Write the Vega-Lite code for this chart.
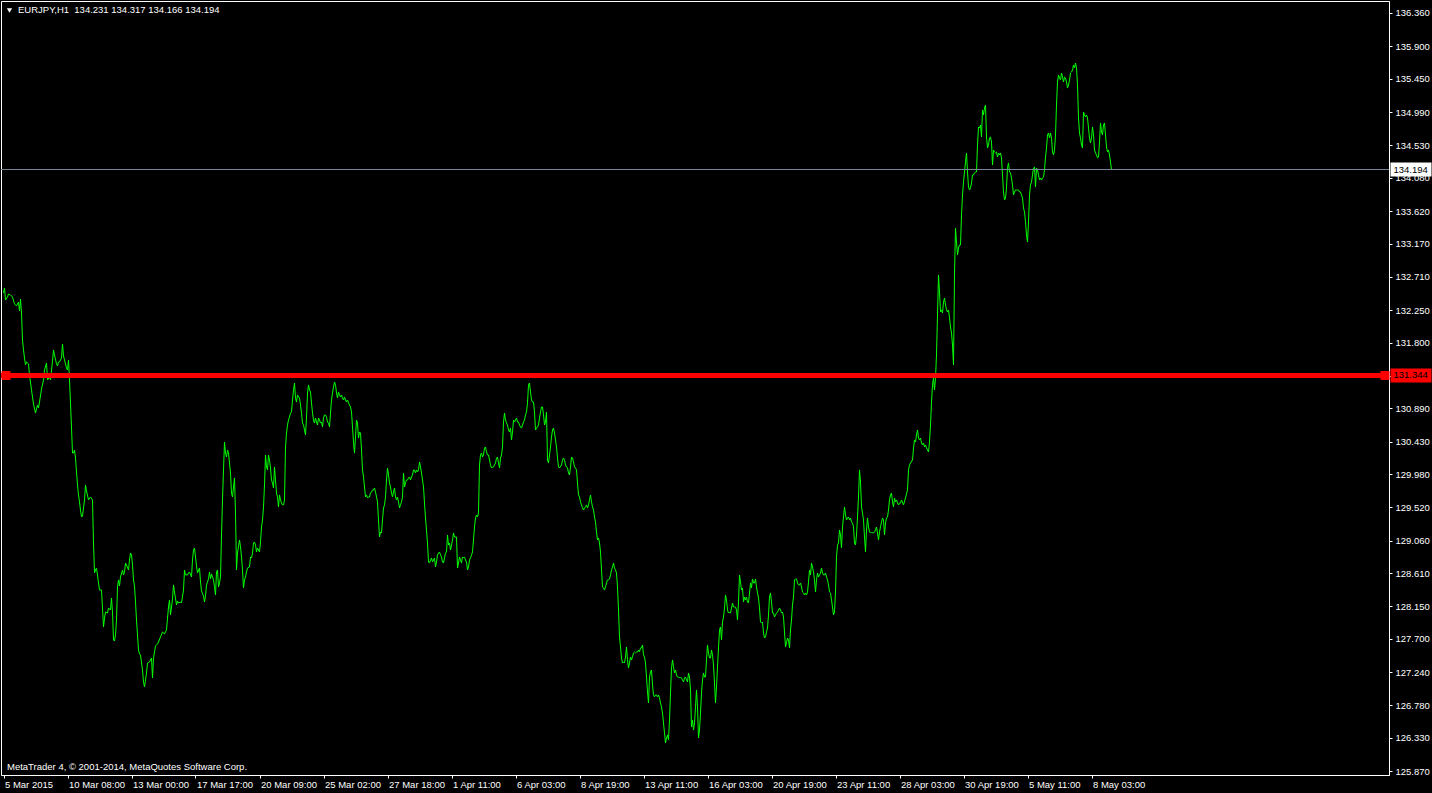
{
"$schema":"https://vega.github.io/schema/vega-lite/v6.json",
"width":1388,"height":774,
"autosize":{"type":"none"},
"padding":{"left":1,"top":1,"right":43,"bottom":18},
"background":"#000000",
"view":{"stroke":"#ffffff","strokeWidth":1,"fill":"#000000"},
"config":{"font":"Liberation Sans","axis":{"labelOverlap":false,"labelBound":false,"labelFlush":false,"grid":false}},
"datasets":{"bars":[
{"i":0,"p":132.485},{"i":1,"p":132.555},{"i":2,"p":132.389},{"i":4,"p":132.430},{"i":5,"p":132.472},{"i":7,"p":132.458},{"i":9,"p":132.430},{"i":11,"p":132.334},{"i":13,"p":132.306},{"i":15,"p":132.361},{"i":16,"p":132.237},{"i":17,"p":132.402},{"i":18,"p":132.209},{"i":19,"p":131.835},{"i":20,"p":131.697},{"i":21,"p":131.586},{"i":22,"p":131.490},{"i":23,"p":131.531},{"i":25,"p":131.504},{"i":26,"p":131.351},{"i":28,"p":131.144},{"i":30,"p":130.950},{"i":32,"p":130.825},{"i":34,"p":130.936},{"i":35,"p":130.894},{"i":36,"p":130.977},{"i":38,"p":131.157},{"i":40,"p":131.282},{"i":41,"p":131.420},{"i":43,"p":131.517},{"i":44,"p":131.282},{"i":46,"p":131.323},{"i":47,"p":131.282},{"i":49,"p":131.545},{"i":50,"p":131.697},{"i":51,"p":131.628},{"i":53,"p":131.504},{"i":54,"p":131.476},{"i":55,"p":131.531},{"i":56,"p":131.531},{"i":58,"p":131.586},{"i":59,"p":131.780},{"i":60,"p":131.614},{"i":61,"p":131.559},{"i":63,"p":131.448},{"i":64,"p":131.420},{"i":65,"p":131.559},{"i":66,"p":131.282},{"i":67,"p":130.963},{"i":68,"p":130.617},{"i":69,"p":130.271},{"i":70,"p":130.271},{"i":71,"p":130.313},{"i":72,"p":130.202},{"i":73,"p":130.009},{"i":74,"p":129.829},{"i":75,"p":129.691},{"i":76,"p":129.594},{"i":77,"p":129.483},{"i":78,"p":129.386},{"i":79,"p":129.400},{"i":81,"p":129.622},{"i":82,"p":129.829},{"i":83,"p":129.746},{"i":85,"p":129.622},{"i":87,"p":129.663},{"i":89,"p":129.622},{"i":90,"p":129.026},{"i":91,"p":128.611},{"i":92,"p":128.653},{"i":93,"p":128.680},{"i":95,"p":128.473},{"i":96,"p":128.376},{"i":98,"p":128.376},{"i":99,"p":128.127},{"i":100,"p":127.864},{"i":101,"p":127.988},{"i":102,"p":128.071},{"i":104,"p":128.057},{"i":105,"p":128.127},{"i":107,"p":128.099},{"i":108,"p":128.265},{"i":109,"p":128.071},{"i":110,"p":127.684},{"i":111,"p":127.670},{"i":112,"p":127.754},{"i":113,"p":127.961},{"i":114,"p":128.418},{"i":115,"p":128.515},{"i":116,"p":128.432},{"i":117,"p":128.556},{"i":119,"p":128.653},{"i":120,"p":128.584},{"i":121,"p":128.625},{"i":122,"p":128.749},{"i":123,"p":128.722},{"i":125,"p":128.653},{"i":126,"p":128.791},{"i":127,"p":128.888},{"i":128,"p":128.861},{"i":129,"p":128.722},{"i":130,"p":128.515},{"i":131,"p":128.432},{"i":132,"p":128.210},{"i":133,"p":127.961},{"i":134,"p":127.754},{"i":135,"p":127.546},{"i":136,"p":127.491},{"i":137,"p":127.477},{"i":139,"p":127.269},{"i":140,"p":127.103},{"i":141,"p":127.034},{"i":143,"p":127.227},{"i":144,"p":127.366},{"i":146,"p":127.380},{"i":148,"p":127.435},{"i":149,"p":127.158},{"i":150,"p":127.435},{"i":152,"p":127.601},{"i":154,"p":127.629},{"i":155,"p":127.656},{"i":157,"p":127.726},{"i":159,"p":127.795},{"i":161,"p":127.768},{"i":163,"p":127.823},{"i":165,"p":128.141},{"i":166,"p":128.238},{"i":167,"p":128.030},{"i":169,"p":128.251},{"i":170,"p":128.446},{"i":171,"p":128.348},{"i":173,"p":128.169},{"i":174,"p":128.224},{"i":175,"p":128.196},{"i":177,"p":128.210},{"i":178,"p":128.196},{"i":180,"p":128.376},{"i":181,"p":128.653},{"i":182,"p":128.584},{"i":184,"p":128.584},{"i":185,"p":128.611},{"i":186,"p":128.625},{"i":188,"p":128.556},{"i":189,"p":128.791},{"i":190,"p":128.930},{"i":191,"p":128.957},{"i":193,"p":128.708},{"i":194,"p":128.611},{"i":196,"p":128.680},{"i":197,"p":128.487},{"i":198,"p":128.362},{"i":200,"p":128.293},{"i":201,"p":128.210},{"i":202,"p":128.293},{"i":203,"p":128.446},{"i":205,"p":128.529},{"i":206,"p":128.625},{"i":207,"p":128.529},{"i":208,"p":128.598},{"i":209,"p":128.556},{"i":210,"p":128.515},{"i":211,"p":128.418},{"i":212,"p":128.307},{"i":213,"p":128.625},{"i":214,"p":128.653},{"i":215,"p":128.418},{"i":216,"p":128.473},{"i":217,"p":128.556},{"i":218,"p":129.137},{"i":219,"p":129.622},{"i":220,"p":130.037},{"i":221,"p":130.424},
{"i":222,"p":130.271},{"i":223,"p":130.216},{"i":224,"p":130.313},{"i":225,"p":130.271},{"i":227,"p":129.995},{"i":228,"p":129.718},{"i":229,"p":129.663},{"i":230,"p":129.801},{"i":231,"p":129.926},{"i":232,"p":129.442},{"i":233,"p":128.653},{"i":234,"p":128.888},{"i":236,"p":129.068},{"i":237,"p":128.971},{"i":238,"p":128.833},{"i":239,"p":128.653},{"i":240,"p":128.404},{"i":241,"p":128.515},{"i":242,"p":128.556},{"i":243,"p":128.625},{"i":244,"p":128.680},{"i":246,"p":128.694},{"i":247,"p":128.833},{"i":248,"p":128.819},{"i":249,"p":128.888},{"i":250,"p":129.026},{"i":251,"p":129.040},{"i":252,"p":128.999},{"i":253,"p":128.902},{"i":254,"p":128.957},{"i":256,"p":128.902},{"i":257,"p":129.040},{"i":258,"p":129.248},{"i":259,"p":129.345},{"i":260,"p":129.525},{"i":261,"p":129.829},{"i":262,"p":130.244},{"i":263,"p":130.078},{"i":264,"p":130.037},{"i":265,"p":130.244},{"i":266,"p":130.175},{"i":267,"p":130.064},{"i":268,"p":129.898},{"i":269,"p":129.857},{"i":270,"p":129.787},{"i":271,"p":130.078},{"i":272,"p":129.898},{"i":273,"p":129.718},{"i":274,"p":129.663},{"i":275,"p":129.525},{"i":276,"p":129.691},{"i":277,"p":129.622},{"i":278,"p":129.580},{"i":279,"p":129.553},{"i":280,"p":129.553},{"i":281,"p":129.622},{"i":282,"p":130.355},{"i":283,"p":130.548},{"i":284,"p":130.659},{"i":285,"p":130.728},{"i":286,"p":130.770},{"i":287,"p":130.825},{"i":288,"p":130.839},{"i":289,"p":131.005},{"i":290,"p":131.144},{"i":291,"p":131.240},{"i":292,"p":131.033},{"i":293,"p":130.977},{"i":294,"p":131.075},{"i":295,"p":131.047},{"i":296,"p":131.033},{"i":297,"p":130.936},{"i":298,"p":130.825},{"i":299,"p":130.686},{"i":300,"p":130.659},{"i":301,"p":130.590},{"i":302,"p":130.521},{"i":303,"p":130.756},{"i":304,"p":131.102},{"i":305,"p":131.213},{"i":306,"p":131.144},{"i":307,"p":131.116},{"i":308,"p":130.963},{"i":309,"p":130.825},{"i":310,"p":130.728},{"i":311,"p":130.686},{"i":312,"p":130.756},{"i":313,"p":130.700},{"i":314,"p":130.659},{"i":315,"p":130.756},{"i":316,"p":130.728},{"i":317,"p":130.686},{"i":318,"p":130.700},{"i":319,"p":130.631},{"i":320,"p":130.756},{"i":321,"p":130.798},{"i":322,"p":130.798},{"i":323,"p":130.770},{"i":324,"p":130.700},{"i":325,"p":130.686},{"i":326,"p":130.631},{"i":327,"p":130.825},{"i":328,"p":131.005},{"i":329,"p":131.102},{"i":330,"p":131.185},{"i":331,"p":131.254},{"i":332,"p":131.213},{"i":333,"p":131.102},{"i":334,"p":131.033},{"i":335,"p":131.116},{"i":336,"p":131.075},{"i":337,"p":131.047},{"i":338,"p":131.075},{"i":339,"p":131.033},{"i":340,"p":131.005},{"i":341,"p":131.047},{"i":342,"p":131.005},{"i":343,"p":130.977},{"i":344,"p":131.005},{"i":345,"p":130.963},{"i":346,"p":130.936},{"i":347,"p":130.908},{"i":348,"p":130.839},{"i":349,"p":130.631},{"i":350,"p":130.424},{"i":351,"p":130.271},{"i":352,"p":130.493},{"i":353,"p":130.728},{"i":354,"p":130.686},{"i":355,"p":130.479},{"i":356,"p":130.562},{"i":357,"p":130.548},{"i":358,"p":130.313},{"i":359,"p":130.037},{"i":360,"p":129.940},{"i":361,"p":129.801},{"i":362,"p":129.663},{"i":363,"p":129.691},{"i":364,"p":129.649},{"i":365,"p":129.663},{"i":366,"p":129.663},{"i":367,"p":129.718},{"i":368,"p":129.732},{"i":369,"p":129.760},{"i":370,"p":129.760},{"i":371,"p":129.787},{"i":372,"p":129.732},{"i":373,"p":129.663},{"i":374,"p":129.594},{"i":375,"p":129.345},{"i":376,"p":129.109},{"i":377,"p":129.179},{"i":378,"p":129.165},{"i":379,"p":129.345},{"i":380,"p":129.511},{"i":381,"p":129.553},{"i":382,"p":129.663},{"i":383,"p":129.898},{"i":384,"p":130.064},{"i":385,"p":129.968},{"i":386,"p":129.857},{"i":387,"p":129.801},{"i":388,"p":129.718},{"i":389,"p":129.663},{"i":390,"p":129.732},{"i":391,"p":129.787},{"i":392,"p":129.663},{"i":393,"p":129.622},{"i":394,"p":129.663},{"i":395,"p":129.594},{"i":396,"p":129.511},{"i":397,"p":129.553},{"i":398,"p":129.594},{"i":399,"p":129.663},{"i":400,"p":129.995},{"i":401,"p":129.801},{"i":402,"p":129.857},{"i":403,"p":129.898},{"i":404,"p":129.898},{"i":405,"p":129.926},{"i":406,"p":129.940},{"i":407,"p":129.898},{"i":408,"p":129.940},{"i":409,"p":129.968},{"i":410,"p":130.037},{"i":411,"p":130.037},{"i":412,"p":129.995},{"i":413,"p":130.037},{"i":414,"p":130.009},{"i":415,"p":130.037},{"i":416,"p":130.147},{"i":417,"p":130.078},{"i":418,"p":129.995},{"i":419,"p":129.898},{"i":420,"p":129.801},{"i":421,"p":129.580},{"i":422,"p":129.372},{"i":423,"p":129.206},{"i":424,"p":129.026},{"i":425,"p":128.763},{"i":426,"p":128.749},{"i":427,"p":128.791},{"i":428,"p":128.819},{"i":429,"p":128.763},{"i":430,"p":128.791},{"i":431,"p":128.819},{"i":432,"p":128.694},{"i":433,"p":128.763},{"i":434,"p":128.861},{"i":435,"p":128.888},{"i":436,"p":128.902},{"i":437,"p":128.861},{"i":438,"p":128.833},{"i":439,"p":128.763},{"i":440,"p":128.749},{"i":441,"p":128.819},{"i":442,"p":128.888},{"i":443,"p":128.902},{"i":444,"p":129.137},{"i":445,"p":128.999},{"i":446,"p":129.026},{"i":447,"p":128.930},{"i":449,"p":129.068},{"i":450,"p":129.165},{"i":451,"p":129.109},{"i":453,"p":129.109},{"i":454,"p":128.680},{"i":455,"p":128.749},{"i":456,"p":128.833},{"i":457,"p":128.791},{"i":458,"p":128.749},{"i":459,"p":128.833},{"i":460,"p":128.819},{"i":461,"p":128.833},{"i":462,"p":128.791},{"i":463,"p":128.763},{"i":464,"p":128.653},{"i":465,"p":128.694},{"i":466,"p":128.791},{"i":467,"p":128.819},{"i":468,"p":128.861},{"i":469,"p":128.902},{"i":470,"p":129.068},{"i":471,"p":129.248},{"i":472,"p":129.372},{"i":473,"p":129.414},{"i":474,"p":129.386},{"i":475,"p":129.442},{"i":476,"p":130.106},{"i":477,"p":130.244},{"i":478,"p":130.271},{"i":479,"p":130.216},{"i":480,"p":130.244},{"i":481,"p":130.341},{"i":482,"p":130.355},{"i":483,"p":130.286},{"i":484,"p":130.244},{"i":485,"p":130.244},{"i":486,"p":130.175},{"i":487,"p":130.106},{"i":488,"p":130.064},{"i":489,"p":130.078},{"i":490,"p":130.078},{"i":491,"p":130.106},{"i":492,"p":130.133},{"i":493,"p":130.202},{"i":494,"p":130.216},{"i":495,"p":130.133},{"i":496,"p":130.064},{"i":497,"p":130.202},{"i":498,"p":130.244},{"i":499,"p":130.355},{"i":500,"p":130.700},{"i":501,"p":130.825},{"i":502,"p":130.728},{"i":503,"p":130.686},{"i":504,"p":130.659},{"i":505,"p":130.590},{"i":506,"p":130.562},{"i":507,"p":130.617},{"i":508,"p":130.452},{"i":509,"p":130.562},{"i":510,"p":130.728},{"i":511,"p":130.700},{"i":512,"p":130.728},{"i":513,"p":130.756},{"i":514,"p":130.700},{"i":515,"p":130.700},{"i":516,"p":130.659},{"i":517,"p":130.631},{"i":518,"p":130.617},{"i":519,"p":130.659},{"i":520,"p":130.700},{"i":521,"p":130.728},{"i":522,"p":130.798},{"i":523,"p":130.839},{"i":524,"p":130.963},{"i":525,"p":131.213},{"i":526,"p":131.240},{"i":527,"p":131.116},{"i":528,"p":131.005},{"i":529,"p":130.977},{"i":530,"p":130.977},{"i":531,"p":130.839},{"i":532,"p":130.590},{"i":533,"p":130.617},{"i":534,"p":130.631},{"i":535,"p":130.659},{"i":536,"p":130.756},{"i":537,"p":130.839},{"i":538,"p":130.908},{"i":539,"p":130.908},{"i":540,"p":130.798},{"i":541,"p":130.659},{"i":542,"p":130.700},{"i":543,"p":130.839},{"i":544,"p":130.175},{"i":545,"p":130.133},{"i":546,"p":130.244},{"i":547,"p":130.355},{"i":548,"p":130.493},{"i":549,"p":130.590},{"i":550,"p":130.617},{"i":551,"p":130.548},{"i":552,"p":130.452},{"i":553,"p":130.355},{"i":554,"p":130.202},{"i":555,"p":130.078},{"i":556,"p":130.064},{"i":558,"p":130.106},{"i":559,"p":130.175},{"i":560,"p":130.202},{"i":561,"p":130.175},{"i":562,"p":130.106},{"i":563,"p":130.078},{"i":564,"p":130.064},{"i":565,"p":129.995},{"i":566,"p":129.968},{"i":567,"p":130.078},{"i":568,"p":130.216},{"i":569,"p":130.202},{"i":570,"p":130.147},{"i":571,"p":130.078},{"i":572,"p":130.064},{"i":573,"p":130.037},{"i":574,"p":129.857},{"i":575,"p":129.691},{"i":576,"p":129.663},{"i":577,"p":129.594},{"i":578,"p":129.553},{"i":579,"p":129.511},{"i":580,"p":129.483},{"i":581,"p":129.511},{"i":582,"p":129.525},{"i":583,"p":129.553},{"i":584,"p":129.511},{"i":585,"p":129.553},{"i":586,"p":129.622},{"i":587,"p":129.691},{"i":588,"p":129.594},{"i":589,"p":129.525},{"i":590,"p":129.483},{"i":591,"p":129.386},{"i":592,"p":129.317},{"i":593,"p":129.179},{"i":594,"p":129.068},{"i":595,"p":129.096},{"i":596,"p":129.026},{"i":597,"p":128.902},{"i":598,"p":128.653},{"i":599,"p":128.418},{"i":600,"p":128.404},{"i":601,"p":128.376},{"i":602,"p":128.418},{"i":603,"p":128.473},{"i":604,"p":128.515},{"i":605,"p":128.515},{"i":606,"p":128.529},{"i":607,"p":128.584},{"i":608,"p":128.653},{"i":609,"p":128.694},{"i":610,"p":128.749},{"i":611,"p":128.680},{"i":612,"p":128.653},{"i":613,"p":128.611},{"i":614,"p":128.418},{"i":615,"p":128.099},{"i":616,"p":127.726},{"i":617,"p":127.588},{"i":618,"p":127.435},{"i":619,"p":127.366},{"i":620,"p":127.380},{"i":621,"p":127.366},{"i":622,"p":127.449},{"i":623,"p":127.588},{"i":624,"p":127.408},{"i":625,"p":127.297},{"i":626,"p":127.366},{"i":627,"p":127.449},{"i":628,"p":127.408},{"i":629,"p":127.449},{"i":630,"p":127.505},{"i":631,"p":127.518},{"i":632,"p":127.505},{"i":633,"p":127.518},{"i":634,"p":127.518},{"i":635,"p":127.546},{"i":636,"p":127.518},{"i":637,"p":127.574},{"i":638,"p":127.574},{"i":639,"p":127.615},{"i":640,"p":127.477},{"i":641,"p":127.449},{"i":642,"p":127.366},{"i":643,"p":127.172},{"i":644,"p":126.965},{"i":645,"p":126.812},{"i":646,"p":127.172},{"i":647,"p":127.241},{"i":648,"p":127.269},{"i":649,"p":127.062},{"i":650,"p":126.924},{"i":651,"p":126.896},{"i":652,"p":126.924},{"i":653,"p":126.924},{"i":654,"p":126.896},{"i":655,"p":126.924},{"i":656,"p":126.882},{"i":657,"p":126.812},{"i":658,"p":126.757},{"i":659,"p":126.674},{"i":660,"p":126.536},{"i":661,"p":126.397},{"i":662,"p":126.259},{"i":663,"p":126.328},{"i":664,"p":126.370},{"i":665,"p":126.301},{"i":666,"p":126.577},{"i":667,"p":126.951},{"i":668,"p":127.297},{"i":669,"p":127.408},{"i":670,"p":127.311},{"i":671,"p":127.227},{"i":672,"p":127.269},{"i":673,"p":127.200},{"i":674,"p":127.172},{"i":675,"p":127.172},{"i":676,"p":127.158},{"i":677,"p":127.172},{"i":678,"p":127.158},{"i":679,"p":127.131},{"i":680,"p":127.103},{"i":681,"p":127.158},{"i":682,"p":127.172},{"i":683,"p":127.131},{"i":684,"p":127.103},{"i":685,"p":127.227},{"i":686,"p":127.172},{"i":687,"p":126.993},{"i":688,"p":126.480},{"i":689,"p":126.577},{"i":690,"p":126.439},{"i":691,"p":126.536},{"i":692,"p":126.757},{"i":693,"p":126.993},{"i":694,"p":126.757},{"i":695,"p":126.328},{"i":696,"p":126.439},{"i":697,"p":126.674},{"i":698,"p":126.951},{"i":699,"p":127.131},{"i":700,"p":127.227},{"i":701,"p":127.172},{"i":702,"p":127.172},{"i":703,"p":127.408},{"i":704,"p":127.615},{"i":705,"p":127.505},{"i":706,"p":127.435},{"i":707,"p":127.435},{"i":708,"p":127.546},{"i":709,"p":127.477},{"i":710,"p":127.338},{"i":711,"p":127.089},{"i":712,"p":126.812},{"i":713,"p":127.034},{"i":714,"p":127.311},{"i":715,"p":127.574},{"i":716,"p":127.823},{"i":717,"p":127.864},{"i":718,"p":127.684},{"i":719,"p":127.933},{"i":720,"p":128.002},{"i":721,"p":128.127},{"i":722,"p":128.307},{"i":723,"p":128.238},{"i":724,"p":128.099},{"i":725,"p":128.057},{"i":726,"p":128.071},{"i":727,"p":128.057},{"i":728,"p":128.127},{"i":729,"p":128.196},{"i":730,"p":128.141},{"i":731,"p":128.141},{"i":732,"p":128.141},{"i":733,"p":128.099},{"i":734,"p":127.961},{"i":735,"p":128.210},{"i":736,"p":128.584},{"i":737,"p":128.487},{"i":738,"p":128.376},{"i":739,"p":128.404},{"i":740,"p":128.210},{"i":741,"p":128.279},{"i":742,"p":128.238},{"i":743,"p":128.279},{"i":744,"p":128.210},{"i":745,"p":128.196},{"i":746,"p":128.335},{"i":747,"p":128.473},{"i":748,"p":128.404},{"i":749,"p":128.529},{"i":750,"p":128.473},{"i":751,"p":128.473},{"i":752,"p":128.529},{"i":753,"p":128.418},{"i":754,"p":128.335},{"i":755,"p":128.265},{"i":756,"p":128.127},{"i":757,"p":127.933},{"i":758,"p":127.919},{"i":759,"p":127.933},{"i":760,"p":127.781},{"i":761,"p":127.712},{"i":762,"p":127.726},{"i":763,"p":127.795},{"i":764,"p":127.850},{"i":765,"p":128.030},{"i":766,"p":128.279},{"i":767,"p":128.335},{"i":768,"p":128.210},{"i":769,"p":128.057},{"i":770,"p":128.057},{"i":771,"p":128.002},{"i":772,"p":128.030},{"i":773,"p":128.057},{"i":774,"p":128.071},{"i":775,"p":128.099},{"i":776,"p":128.127},{"i":777,"p":128.099},{"i":778,"p":128.057},{"i":779,"p":128.071},{"i":780,"p":128.002},{"i":781,"p":127.795},{"i":782,"p":127.588},{"i":783,"p":127.643},{"i":784,"p":127.712},{"i":785,"p":127.684},{"i":786,"p":127.574},{"i":787,"p":127.823},{"i":788,"p":127.961},{"i":789,"p":128.169},{"i":790,"p":128.279},{"i":791,"p":128.515},{"i":792,"p":128.529},{"i":793,"p":128.529},{"i":794,"p":128.473},{"i":795,"p":128.446},{"i":796,"p":128.446},{"i":797,"p":128.473},{"i":798,"p":128.418},{"i":799,"p":128.348},{"i":800,"p":128.335},{"i":801,"p":128.307},{"i":802,"p":128.335},{"i":803,"p":128.307},{"i":804,"p":128.348},{"i":805,"p":128.487},{"i":806,"p":128.653},{"i":807,"p":128.584},{"i":808,"p":128.749},{"i":809,"p":128.694},{"i":810,"p":128.625},{"i":811,"p":128.515},{"i":812,"p":128.348},{"i":813,"p":128.515},{"i":814,"p":128.611},{"i":815,"p":128.556},{"i":816,"p":128.584},{"i":817,"p":128.611},{"i":818,"p":128.680},{"i":819,"p":128.611},{"i":820,"p":128.584},{"i":821,"p":128.584},{"i":822,"p":128.611},{"i":823,"p":128.556},{"i":824,"p":128.515},{"i":825,"p":128.446},{"i":826,"p":128.348},{"i":827,"p":128.335},{"i":828,"p":128.238},{"i":829,"p":128.141},{"i":830,"p":128.030},{"i":831,"p":128.071},{"i":832,"p":128.348},{"i":833,"p":128.833},{"i":834,"p":128.999},{"i":835,"p":129.026},{"i":836,"p":129.206},{"i":837,"p":129.137},{"i":838,"p":128.957},{"i":839,"p":129.248},{"i":840,"p":129.386},{"i":841,"p":129.525},{"i":842,"p":129.414},{"i":843,"p":129.345},{"i":844,"p":129.372},{"i":845,"p":129.386},{"i":846,"p":129.345},{"i":847,"p":129.372},{"i":848,"p":129.317},{"i":849,"p":129.303},{"i":850,"p":129.248},{"i":851,"p":129.026},{"i":852,"p":128.999},{"i":853,"p":129.137},{"i":854,"p":129.386},{"i":855,"p":129.663},{"i":856,"p":130.037},{"i":857,"p":129.870},{"i":858,"p":129.525},{"i":859,"p":129.442},{"i":860,"p":129.345},{"i":861,"p":129.109},{"i":862,"p":128.902},{"i":863,"p":129.206},{"i":864,"p":129.372},{"i":865,"p":129.248},{"i":866,"p":129.179},{"i":867,"p":129.165},{"i":868,"p":129.179},{"i":869,"p":129.165},{"i":870,"p":129.165},{"i":871,"p":129.179},{"i":872,"p":129.206},{"i":873,"p":129.248},{"i":874,"p":129.165},{"i":875,"p":129.068},{"i":876,"p":129.179},{"i":877,"p":129.248},{"i":878,"p":129.317},{"i":879,"p":129.372},{"i":880,"p":129.345},{"i":881,"p":129.137},{"i":882,"p":129.303},{"i":883,"p":129.372},{"i":884,"p":129.386},{"i":885,"p":129.483},{"i":886,"p":129.622},{"i":887,"p":129.691},{"i":888,"p":129.718},{"i":889,"p":129.594},{"i":890,"p":129.525},{"i":891,"p":129.649},{"i":892,"p":129.594},{"i":893,"p":129.622},{"i":894,"p":129.580},{"i":895,"p":129.553},{"i":896,"p":129.580},{"i":897,"p":129.580},{"i":898,"p":129.622},{"i":900,"p":129.553},{"i":902,"p":129.649},{"i":904,"p":129.760},{"i":905,"p":130.037},{"i":906,"p":130.106},{"i":907,"p":130.133},{"i":909,"p":130.175},{"i":910,"p":130.341},{"i":911,"p":130.452},{"i":912,"p":130.424},{"i":913,"p":130.521},{"i":914,"p":130.590},{"i":915,"p":130.479},{"i":916,"p":130.452},{"i":917,"p":130.479},{"i":918,"p":130.410},{"i":919,"p":130.383},{"i":920,"p":130.410},{"i":921,"p":130.355},{"i":922,"p":130.383},{"i":923,"p":130.341},{"i":924,"p":130.313},{"i":925,"p":130.286},{"i":926,"p":130.424},{"i":927,"p":130.659},{"i":928,"p":130.977},{"i":929,"p":131.213},{"i":930,"p":131.310},{"i":931,"p":131.144},{"i":932,"p":131.310},{"i":933,"p":131.628},{"i":934,"p":132.181},{"i":935,"p":132.735},{"i":936,"p":132.500},{"i":937,"p":132.223},{"i":938,"p":132.251},{"i":939,"p":132.209},{"i":940,"p":132.361},{"i":941,"p":132.416},{"i":942,"p":132.320},{"i":943,"p":132.251},{"i":944,"p":132.223},{"i":945,"p":132.251},{"i":946,"p":132.140},{"i":947,"p":132.015},{"i":948,"p":131.932},{"i":949,"p":131.766},{"i":950,"p":131.490},{"i":951,"p":132.735},{"i":952,"p":133.385},{"i":953,"p":133.191},{"i":954,"p":133.011},{"i":955,"p":133.108},{"i":956,"p":133.150},{"i":957,"p":133.150},{"i":958,"p":133.565},{"i":959,"p":133.842},{"i":960,"p":134.021},{"i":961,"p":134.160},{"i":962,"p":134.298},{"i":963,"p":134.423},{"i":964,"p":134.160},{"i":965,"p":133.952},{"i":966,"p":133.911},{"i":967,"p":133.939},{"i":968,"p":134.008},{"i":969,"p":134.119},{"i":970,"p":134.119},{"i":971,"p":134.146},{"i":972,"p":134.160},{"i":973,"p":134.160},{"i":974,"p":134.534},{"i":975,"p":134.783},{"i":976,"p":134.769},{"i":977,"p":134.810},{"i":978,"p":134.644},{"i":979,"p":135.018},{"i":980,"p":134.949},{"i":981,"p":135.046},{"i":982,"p":135.087},{"i":983,"p":134.644},{"i":984,"p":134.492},{"i":985,"p":134.534},{"i":986,"p":134.631},{"i":987,"p":134.644},{"i":988,"p":134.575},{"i":989,"p":134.257},{"i":990,"p":134.464},{"i":991,"p":134.436},{"i":992,"p":134.423},{"i":993,"p":134.436},{"i":994,"p":134.367},{"i":995,"p":134.423},{"i":996,"p":134.395},{"i":997,"p":134.423},{"i":998,"p":134.354},{"i":999,"p":134.119},{"i":1000,"p":133.883},{"i":1001,"p":133.773},{"i":1002,"p":133.800},{"i":1003,"p":133.939},{"i":1004,"p":134.216},{"i":1005,"p":134.285},{"i":1006,"p":134.160},{"i":1007,"p":134.146},{"i":1008,"p":134.077},{"i":1009,"p":133.980},{"i":1010,"p":133.842},{"i":1011,"p":133.883},{"i":1012,"p":133.911},{"i":1013,"p":133.911},{"i":1014,"p":133.911},{"i":1015,"p":133.911},{"i":1016,"p":133.883},{"i":1017,"p":133.883},{"i":1018,"p":133.842},{"i":1019,"p":133.800},{"i":1020,"p":133.662},{"i":1021,"p":133.606},{"i":1022,"p":133.468},{"i":1023,"p":133.288},{"i":1024,"p":133.191},{"i":1025,"p":133.468},{"i":1026,"p":133.842},{"i":1027,"p":133.980},{"i":1028,"p":134.021},{"i":1029,"p":134.119},{"i":1030,"p":134.216},{"i":1031,"p":134.229},{"i":1032,"p":133.952},{"i":1033,"p":134.216},{"i":1034,"p":134.188},{"i":1035,"p":134.119},{"i":1036,"p":134.049},{"i":1037,"p":134.077},{"i":1038,"p":134.049},{"i":1039,"p":134.077},{"i":1040,"p":134.091},{"i":1041,"p":134.188},{"i":1042,"p":134.367},{"i":1043,"p":134.492},{"i":1044,"p":134.672},{"i":1045,"p":134.700},{"i":1046,"p":134.631},{"i":1047,"p":134.700},{"i":1048,"p":134.631},{"i":1049,"p":134.436},{"i":1050,"p":134.395},{"i":1051,"p":134.464},{"i":1052,"p":134.672},{"i":1053,"p":135.087},{"i":1054,"p":135.405},{"i":1055,"p":135.502},{"i":1056,"p":135.461},{"i":1057,"p":135.433},{"i":1058,"p":135.530},{"i":1059,"p":135.474},{"i":1060,"p":135.405},{"i":1061,"p":135.474},{"i":1062,"p":135.461},{"i":1063,"p":135.405},{"i":1064,"p":135.322},{"i":1065,"p":135.364},{"i":1066,"p":135.433},{"i":1067,"p":135.530},{"i":1068,"p":135.543},{"i":1069,"p":135.571},{"i":1070,"p":135.641},{"i":1071,"p":135.599},{"i":1072,"p":135.668},{"i":1073,"p":135.599},{"i":1074,"p":135.364},{"i":1075,"p":134.907},{"i":1076,"p":134.700},{"i":1077,"p":134.631},{"i":1078,"p":134.534},{"i":1079,"p":134.492},{"i":1080,"p":134.990},{"i":1081,"p":134.949},{"i":1082,"p":134.921},{"i":1083,"p":134.949},{"i":1084,"p":134.907},{"i":1085,"p":134.769},{"i":1086,"p":134.631},{"i":1087,"p":134.561},{"i":1088,"p":134.631},{"i":1089,"p":134.783},{"i":1090,"p":134.672},{"i":1091,"p":134.464},{"i":1092,"p":134.423},{"i":1093,"p":134.395},{"i":1094,"p":134.354},{"i":1095,"p":134.367},{"i":1096,"p":134.575},{"i":1097,"p":134.838},{"i":1098,"p":134.714},{"i":1099,"p":134.672},{"i":1100,"p":134.810},{"i":1101,"p":134.838},{"i":1102,"p":134.672},{"i":1103,"p":134.506},{"i":1104,"p":134.436},{"i":1105,"p":134.464},{"i":1106,"p":134.395},{"i":1107,"p":134.298},{"i":1108,"p":134.194}
]},
"layer":[
{"data":{"name":"bars"},
 "mark":{"type":"line","color":"#00ff00","strokeWidth":1,"interpolate":"linear"},
 "encoding":{
  "x":{"field":"i","type":"quantitative","title":null,"scale":{"domain":[-2.5,1385.5],"nice":false,"zero":false},
   "axis":{"orient":"bottom","title":null,"values":[0,64,128,192,256,320,384,448,512,576,640,704,768,832,896,960,1024,1088],"tickCount":60,
    "labelExpr":"['5 Mar 2015','10 Mar 08:00','13 Mar 00:00','17 Mar 17:00','20 Mar 09:00','25 Mar 02:00','27 Mar 18:00','1 Apr 11:00','6 Apr 03:00','8 Apr 19:00','13 Apr 11:00','16 Apr 03:00','20 Apr 19:00','23 Apr 11:00','28 Apr 03:00','30 Apr 19:00','5 May 11:00','8 May 03:00'][round(datum.value/64)]",
    "labelAlign":"left","labelOffset":1,"labelBaseline":"top","labelPadding":1,"tickSize":3,"tickColor":"#ffffff","domainColor":"#ffffff","labelColor":"#ffffff","labelFontSize":9.5,"labelFont":"Liberation Sans","grid":false,"labelOverlap":false,"labelBound":false,"labelFlush":false}},
  "y":{"field":"p","type":"quantitative","title":null,"scale":{"domain":[125.816,136.526],"nice":false,"zero":false},
   "axis":{"orient":"right","title":null,"values":[125.87,126.33,126.78,127.24,127.7,128.15,128.61,129.06,129.52,129.98,130.43,130.89,131.34,131.8,132.25,132.71,133.17,133.62,134.08,134.53,134.99,135.45,135.9,136.36],"tickCount":60,
    "format":".3f","tickSize":3,"labelPadding":3,"labelAlign":"left","labelBaseline":"middle","tickColor":"#ffffff","domainColor":"#ffffff","labelColor":"#ffffff","labelFontSize":9.5,"labelFont":"Liberation Sans","grid":false,"labelOverlap":false,"labelBound":false,"labelFlush":false}}
 }},
{"data":{"values":[{"level":134.194}]},
 "mark":{"type":"rule","color":"#778899","strokeWidth":1},
 "encoding":{"y":{"field":"level","type":"quantitative","title":null}}},
{"data":{"values":[{"level":131.344}]},
 "mark":{"type":"rule","color":"#ff0000","strokeWidth":5},
 "encoding":{"y":{"field":"level","type":"quantitative","title":null}}},
{"data":{"values":[{"level":131.344}]},
 "mark":{"type":"point","shape":"square","size":81,"filled":true,"color":"#ff0000","opacity":1},
 "encoding":{"x":{"datum":2.5,"type":"quantitative"},"y":{"field":"level","type":"quantitative","title":null}}},
{"data":{"values":[{"level":131.344}]},
 "mark":{"type":"point","shape":"square","size":81,"filled":true,"color":"#ff0000","opacity":1},
 "encoding":{"x":{"datum":1381.5,"type":"quantitative"},"y":{"field":"level","type":"quantitative","title":null}}},
{"data":{"values":[{"level":134.194}]},
 "mark":{"type":"point","shape":"M-1,-0.34H1V0.34H-1Z","size":1681,"filled":true,"color":"#ffffff","opacity":1,"strokeWidth":0},
 "encoding":{"x":{"datum":1407.5,"type":"quantitative"},"y":{"field":"level","type":"quantitative","title":null}}},
{"data":{"values":[{"level":131.344}]},
 "mark":{"type":"point","shape":"M-1,-0.34H1V0.34H-1Z","size":1681,"filled":true,"color":"#ff0000","opacity":1,"strokeWidth":0},
 "encoding":{"x":{"datum":1407.5,"type":"quantitative"},"y":{"field":"level","type":"quantitative","title":null}}},
{"data":{"values":[{"level":134.194},{"level":131.344}]},
 "mark":{"type":"text","align":"left","baseline":"middle","fontSize":9.5,"font":"Liberation Sans","color":"#000000"},
 "encoding":{"x":{"datum":1390,"type":"quantitative"},"y":{"field":"level","type":"quantitative","title":null},"text":{"field":"level","type":"quantitative","format":".3f"}}},
{"data":{"values":[{"label":"EURJPY,H1\u00a0\u00a0134.231 134.317 134.166 134.194"}]},
 "mark":{"type":"text","align":"left","baseline":"middle","fontSize":9.5,"font":"Liberation Sans","color":"#ffffff"},
 "encoding":{"x":{"datum":14.5,"type":"quantitative"},"y":{"datum":136.401,"type":"quantitative"},"text":{"field":"label"}}},
{"data":{"values":[{"label":"MetaTrader 4, © 2001-2014, MetaQuotes Software Corp."}]},
 "mark":{"type":"text","align":"left","baseline":"middle","fontSize":9.5,"font":"Liberation Sans","color":"#ffffff"},
 "encoding":{"x":{"datum":3.5,"type":"quantitative"},"y":{"datum":125.927,"type":"quantitative"},"text":{"field":"label"}}},
{"data":{"values":[{"label":"EURJPY,H1"}]},
 "mark":{"type":"point","shape":"triangle-down","size":28,"filled":true,"color":"#ffffff","opacity":1},
 "encoding":{"x":{"datum":6,"type":"quantitative"},"y":{"datum":136.395,"type":"quantitative"}}}
]
}
